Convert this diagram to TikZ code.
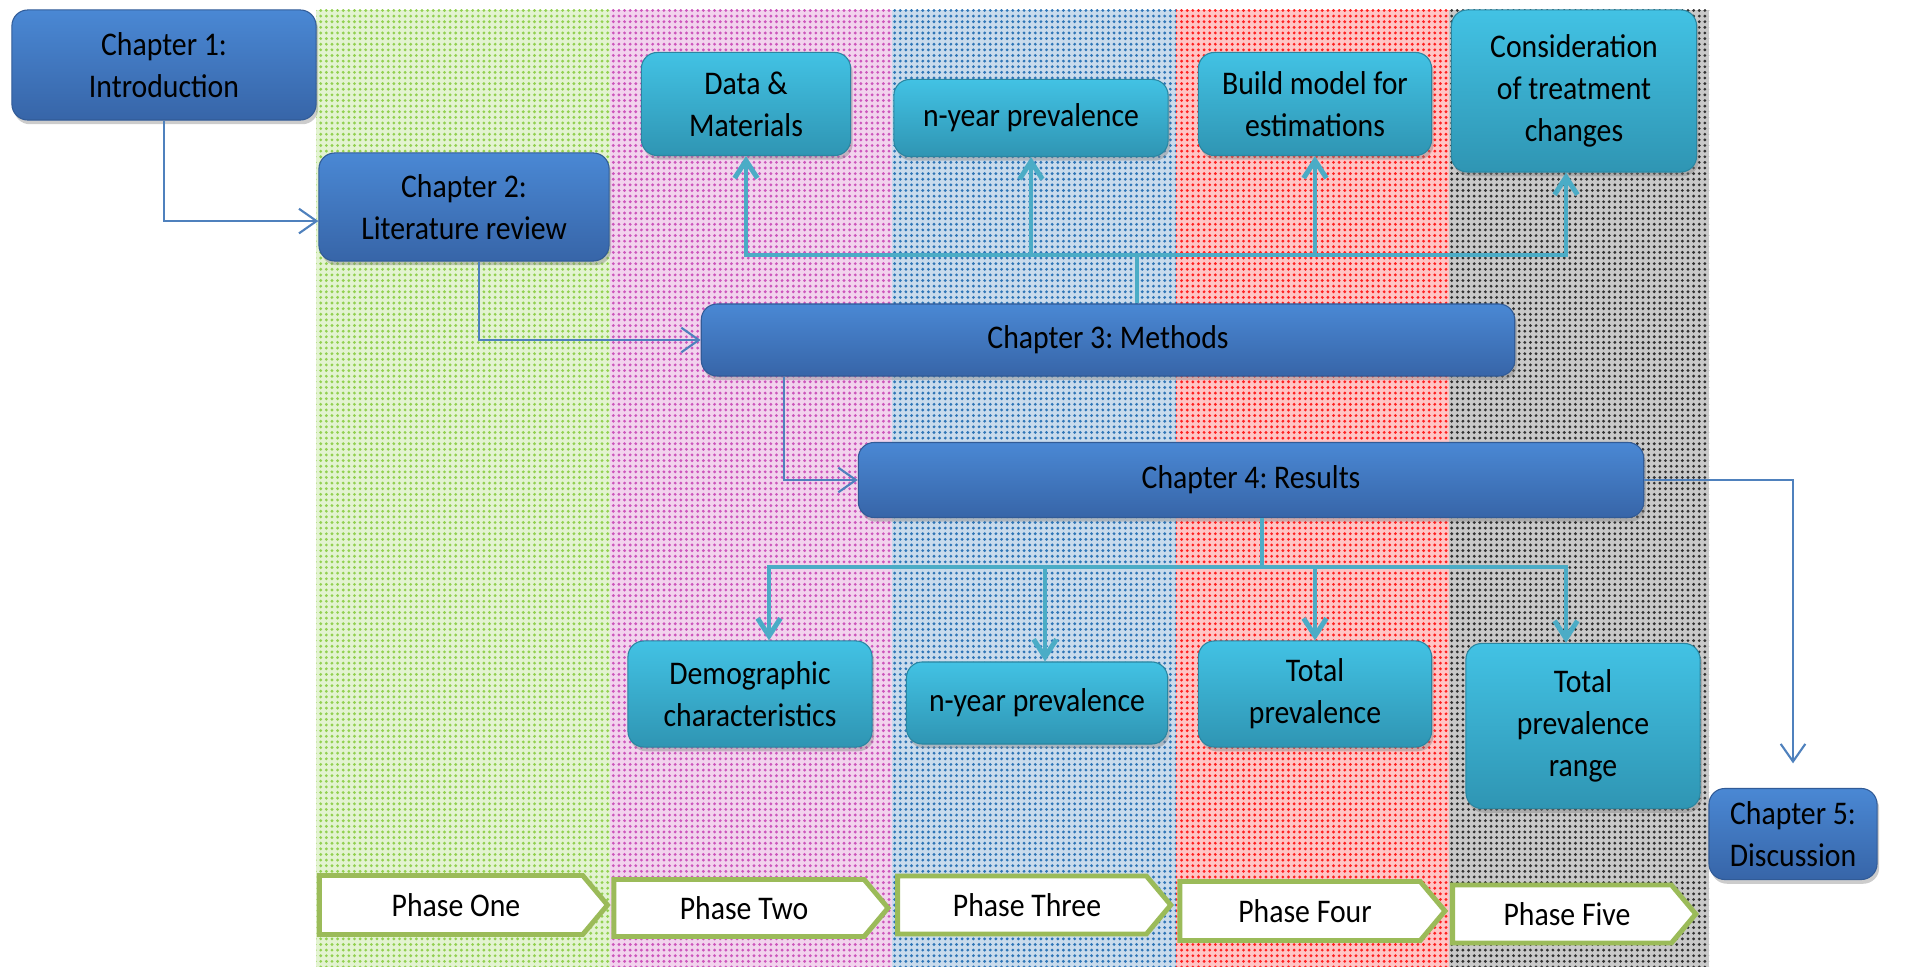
\documentclass[tikz,border=0pt]{standalone}
\usepackage{fontspec}
\setmainfont{Carlito}[FakeStretch=0.9]
\usepackage{tikz}
\usetikzlibrary{shapes.symbols, arrows.meta, shadows, patterns.meta}
\frenchspacing
\definecolor{ChapTop}{HTML}{4A88D4}
\definecolor{ChapBot}{HTML}{3765A8}
\definecolor{SubTop}{HTML}{42C2E4}
\definecolor{SubBot}{HTML}{2F95B3}
\definecolor{LinkTeal}{HTML}{4BACC6}
\definecolor{LinkBlue}{HTML}{4F81BD}
\definecolor{PhaseGreen}{HTML}{9BBB59}
\definecolor{DotGreen}{HTML}{92D050}
\definecolor{DotPink}{HTML}{CC55BB}
\definecolor{DotBlue}{HTML}{2E75B6}
\definecolor{DotRed}{HTML}{FF2020}
\definecolor{DotGray}{HTML}{303030}
\tikzdeclarepattern{
  name=finedots,
  type=uncolored,
  bottom left={(-.8pt,-.8pt)},
  top right={(.8pt,.8pt)},
  tile size={(1.6pt,1.6pt)},
  code={\fill (0pt,0pt) circle [radius=0.45pt];}
}
\tikzset{
  % Box styles
  chapbox/.style={rectangle, rounded corners=4.5pt, draw=ChapBot!90!black, line width=0.3pt, top color=ChapTop, bottom color=ChapBot, align=center, inner sep=2pt, drop shadow={shadow xshift=0.6pt, shadow yshift=-1.2pt, opacity=0.4}},
  subbox/.style={rectangle, rounded corners=4.5pt, draw=SubBot!90!black, line width=0.3pt, top color=SubTop, bottom color=SubBot, align=center, inner sep=2pt, drop shadow={shadow xshift=0.6pt, shadow yshift=-1.2pt, opacity=0.4}},
  phasebox/.style={signal, signal to=east, signal pointer angle=100, draw=PhaseGreen, line width=1.4pt, fill=white, inner sep=2pt},
  % Arrow styles
  chaparrow/.style={-{Straight Barb[length=5pt,width=7pt]}, LinkBlue, line width=0.6pt},
  subarrow/.style={-{Straight Barb[length=5pt,width=6.5pt]}, LinkTeal, line width=1.4pt},
  subline/.style={LinkTeal, line width=1.4pt},
  % Stripe styles
  stripe/.style={preaction={fill=#1!26}, pattern=finedots, pattern color=#1}
}

\begin{document}
\begin{tikzpicture}[x=0.01cm, y=-0.01cm, font=\fontsize{9.4}{12}\selectfont]
  \useasboundingbox (0,0) rectangle (1921,967);

  % Phase stripes
  \fill[stripe=DotGreen] (316,10) rectangle (610,967);
  \fill[stripe=DotPink] (610,10) rectangle (892,967);
  \fill[stripe=DotBlue] (892,10) rectangle (1176,967);
  \fill[stripe=DotRed] (1176,10) rectangle (1449,967);
  \fill[stripe=DotGray] (1449,10) rectangle (1709,967);

  % Chapters
  \node[chapbox, minimum width=3.04cm, minimum height=1.10cm] (ch1) at (164,65) {Chapter 1:\\Introduction};
  \node[chapbox, minimum width=2.90cm, minimum height=1.08cm] (ch2) at (464,207) {Chapter 2:\\Literature review};
  \node[chapbox, minimum width=8.13cm, minimum height=0.72cm] (ch3) at (1108,340) {Chapter 3: Methods};
  \node[chapbox, minimum width=7.85cm, minimum height=0.75cm] (ch4) at (1251,480) {Chapter 4: Results};
  \node[chapbox, minimum width=1.68cm, minimum height=0.91cm] (ch5) at (1793,834) {Chapter 5:\\Discussion};

  % Methods parts
  \node[subbox, minimum width=2.09cm, minimum height=1.03cm] (m1) at (746,104) {Data \&\\Materials};
  \node[subbox, minimum width=2.74cm, minimum height=0.77cm] (m2) at (1031,118) {n-year prevalence};
  \node[subbox, minimum width=2.33cm, minimum height=1.03cm] (m3) at (1315,104) {Build model for\\estimations};
  \node[subbox, minimum width=2.45cm, minimum height=1.62cm] (m4) at (1574,91) {Consideration\\of treatment\\changes};

  % Results parts
  \node[subbox, minimum width=2.44cm, minimum height=1.06cm] (r1) at (750,694) {Demographic\\characteristics};
  \node[subbox, minimum width=2.61cm, minimum height=0.82cm] (r2) at (1037,703) {n-year prevalence};
  \node[subbox, minimum width=2.33cm, minimum height=1.06cm] (r3) at (1315,694) {Total\\prevalence};
  \node[subbox, minimum width=2.34cm, minimum height=1.65cm] (r4) at (1583,726) {Total\\prevalence\\range};

  % Phases
  \node[phasebox, minimum width=2.88cm, minimum height=0.59cm] (p1) at (451,905) {\hspace{0.1cm}Phase One};
  \node[phasebox, minimum width=2.74cm, minimum height=0.57cm] (p2) at (739,908) {\hspace{0.1cm}Phase Two};
  \node[phasebox, minimum width=2.73cm, minimum height=0.58cm] (p3) at (1022,905) {\hspace{0.1cm}Phase Three};
  \node[phasebox, minimum width=2.65cm, minimum height=0.59cm] (p4) at (1300,911) {\hspace{0.1cm}Phase Four};
  \node[phasebox, minimum width=2.43cm, minimum height=0.58cm] (p5) at (1562,914) {\hspace{0.1cm}Phase Five};

  % Chapter flow
  \draw[chaparrow] (ch1.south) |- ([yshift=-4pt]ch2.west);
  \draw[chaparrow] ([xshift=0.15cm]ch2.south) |- (ch3.west);
  \draw[chaparrow] ([xshift=0.83cm]ch3.south west) |- (ch4.west);
  \draw[chaparrow, shorten >=7pt] (ch4.east) -| (ch5.north);

  % Methods tree
  \coordinate (mbus) at (1137,255);
  \draw[subline] (ch3.north -| mbus) -- (mbus);
  \draw[subarrow] (mbus) -| (m1.south);
  \draw[subarrow] (mbus) -| (m2.south);
  \draw[subarrow] (mbus) -| (m3.south);
  \draw[subarrow] (mbus) -| ([xshift=-0.08cm]m4.south);

  % Results tree
  \coordinate (rbus) at (1262,567);
  \draw[subline] (ch4.south -| rbus) -- (rbus);
  \draw[subarrow] (rbus) -| ([xshift=0.19cm]r1.north);
  \draw[subarrow] (rbus) -| ([xshift=0.08cm]r2.north);
  \draw[subarrow] (rbus) -| (r3.north);
  \draw[subarrow] (rbus) -| ([xshift=-0.17cm]r4.north);
\end{tikzpicture}
\end{document}
